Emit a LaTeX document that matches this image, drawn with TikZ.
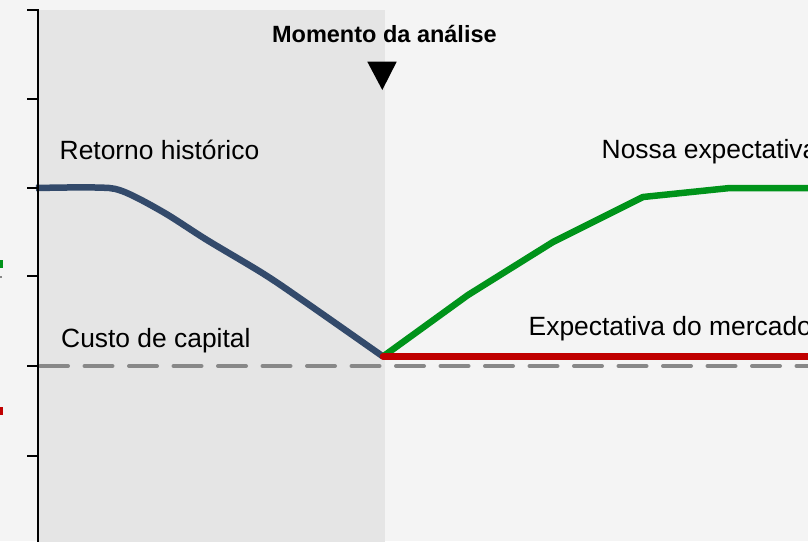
\documentclass[tikz,border=0pt]{standalone}
\usepackage{fontspec}
\setmainfont{Liberation Sans}
\begin{document}
\begin{tikzpicture}[x=1pt,y=-1pt,
  lbl/.style={inner sep=0pt,anchor=base west,font=\fontsize{26.4}{29}\selectfont},
  tickline/.style={black,line width=2pt},
  curve/.style={line width=6.5pt,line join=round}]
\definecolor{bgc}{HTML}{F4F4F4}
\definecolor{shadegray}{HTML}{E5E5E5}
\definecolor{histblue}{HTML}{334A6B}
\definecolor{ourgreen}{HTML}{00931A}
\definecolor{mktred}{HTML}{C00000}
\definecolor{dashgray}{HTML}{888888}
\useasboundingbox (0,0) rectangle (808,541);
\fill[bgc] (0,0) rectangle (808,541);
\begin{scope}
\clip (0,0) rectangle (808,541);
\fill[shadegray] (38,10) rectangle (384.5,545);
% left-edge fragments
\fill[ourgreen] (0,260) rectangle (2.5,267.5);
\fill[dashgray] (0,275.5) rectangle (1.5,278);
\fill[mktred] (0,406.5) rectangle (2.5,414.5);
% dashed cost of capital line
\coordinate (d0) at (40,366);
\coordinate (d1) at (812,366);
\draw[dashgray,line width=4pt,line cap=round,dash pattern=on 28pt off 16.5pt] (d0) -- (d1);
% historical return
\coordinate (now) at (383,356.5);
\draw[histblue,curve,line cap=butt] plot[smooth,tension=0.55] coordinates
  {(36,188) (95,187.5) (122,191) (163,212) (207,240) (263,273.5) (303,300.5) (now)};
% our expectation
\draw[ourgreen,curve,line cap=butt] (now) -- (468,295) -- (553,242) -- (643,197) -- (730,188) -- (812,188);
% market expectation
\coordinate (mk) at (812,356.5);
\draw[mktred,curve,line cap=round] (now) -- (mk);
% axis
\coordinate (ax0) at (38,9);
\coordinate (ax1) at (38,545);
\draw[tickline] (ax0) -- (ax1);
\foreach \yy in {10,99,188,276,366,456} \draw[tickline] (27,\yy) -- (38,\yy);
% labels
\node[lbl] (ret) at (59.5,159.3) {Retorno histórico};
\node[lbl] (cust) at (61,347.5) {Custo de capital};
\node[lbl] (nossa) at (601.5,158) {Nossa expectativa};
\node[lbl] (merc) at (528.5,335) {Expectativa do mercado};
\node[inner sep=0pt,anchor=base,font=\bfseries\fontsize{23.5}{26}\selectfont] (mom) at (384.4,42.5) {Momento da análise};
\fill[black] (367.3,61.7) -- (396.7,61.7) -- (382.3,90) -- cycle;
\end{scope}
\end{tikzpicture}
\end{document}
